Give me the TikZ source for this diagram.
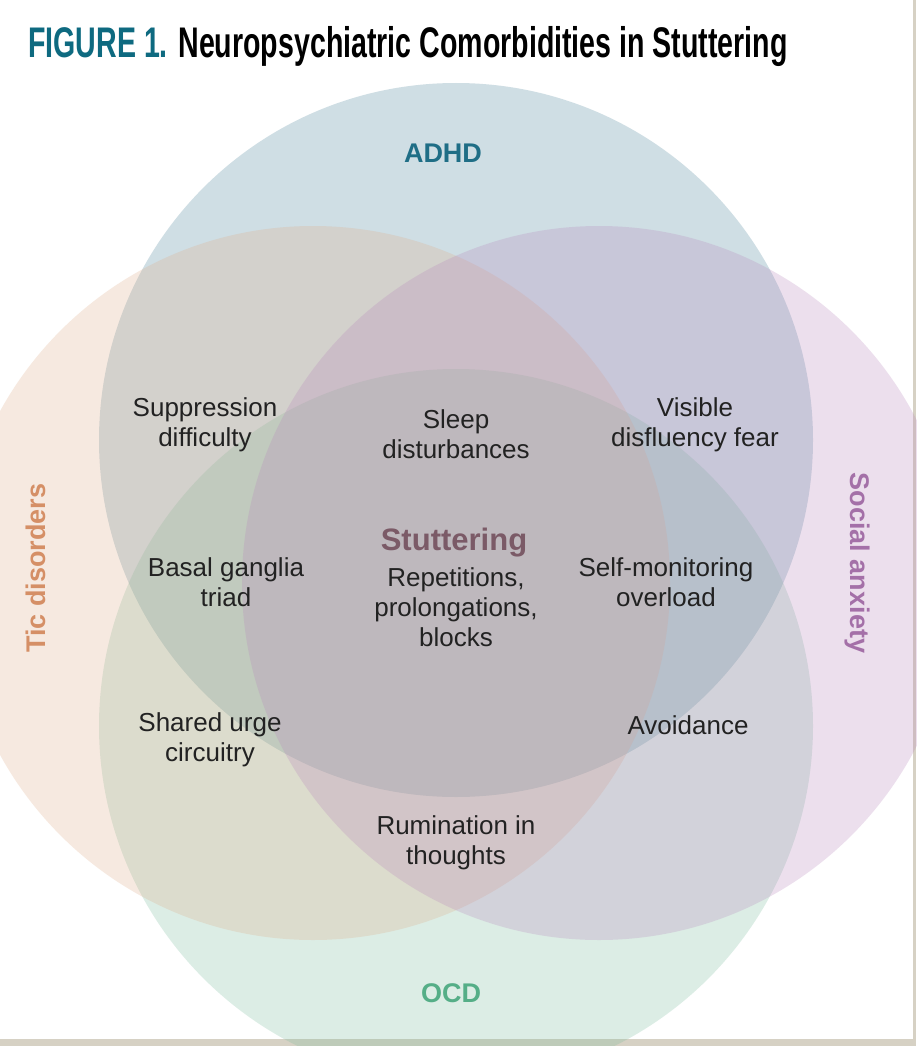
\documentclass[tikz,border=0pt]{standalone}
\usepackage{fontspec}
\setmainfont{Liberation Sans}
\usepackage{graphicx}
\definecolor{adhdc}{RGB}{67,127,151}
\definecolor{ticc}{RGB}{223,171,135}
\definecolor{socc}{RGB}{183,131,187}
\definecolor{ocdc}{RGB}{119,187,155}
\definecolor{framec}{RGB}{214,209,196}
\definecolor{adhdt}{RGB}{31,110,134}
\definecolor{tict}{RGB}{213,143,102}
\definecolor{soct}{RGB}{164,112,168}
\definecolor{ocdt}{RGB}{85,174,135}
\definecolor{stutt}{RGB}{123,90,103}
\definecolor{titleteal}{RGB}{14,106,128}
\definecolor{bodyt}{RGB}{34,34,34}
\begin{document}
\begin{tikzpicture}[x=1pt,y=-1pt,
  venn/.style={opacity=0.25},
  lbl/.style={align=center,text=bodyt,font=\fontsize{26}{30}\selectfont,inner sep=0pt},
  setlbl/.style={inner sep=0pt,font=\fontsize{27}{30}\selectfont\bfseries}]
\useasboundingbox (0,0) rectangle (916,1046);
\fill[white] (0,0) rectangle (916,1046);
% frame
\fill[framec] (912.5,0) rectangle (916,1046);
\fill[framec] (0,1039) rectangle (916,1046);
% circles
\fill[adhdc,venn] (456,440) circle (357);
\fill[ocdc,venn] (456,726) circle (357);
\fill[ticc,venn] (313,583) circle (357);
\fill[socc,venn] (599,583) circle (357);
% title
\node[anchor=base west,inner sep=0pt] (title) at (28,58)
  {\scalebox{0.68}[1.02]{\fontsize{42}{42}\selectfont\bfseries\textcolor{titleteal}{FIGURE 1.} \textcolor{black}{Neuropsychiatric Comorbidities in Stuttering}}};
% set labels
\node[setlbl,text=adhdt] (adhd) at (443,153) {ADHD};
\node[setlbl,text=ocdt] (ocd) at (451,993) {OCD};
\node[setlbl,text=tict,rotate=90] (tic) at (36,568) {Tic disorders};
\node[setlbl,text=soct,rotate=-90] (soc) at (857,563) {Social anxiety};
% region labels
\node[lbl] (supp) at (205,425) {Suppression\\difficulty};
\node[lbl] (sleep) at (456,434) {Sleep\\disturbances};
\node[lbl] (vis) at (695,425) {Visible\\disfluency fear};
\node[lbl] (basal) at (226,582) {Basal ganglia\\triad};
\node[inner sep=0pt,text=stutt,font=\fontsize{31}{31}\selectfont\bfseries] (stut) at (454,543) {Stuttering};
\node[lbl] (rep) at (456,607) {Repetitions,\\prolongations,\\blocks};
\node[lbl] (self) at (666,582) {Self-monitoring\\overload};
\node[lbl] (shared) at (210,740) {Shared urge\\circuitry};
\node[lbl] (avoid) at (688,725) {Avoidance};
\node[lbl] (rum) at (456,843) {Rumination in\\thoughts};
\end{tikzpicture}
\end{document}
